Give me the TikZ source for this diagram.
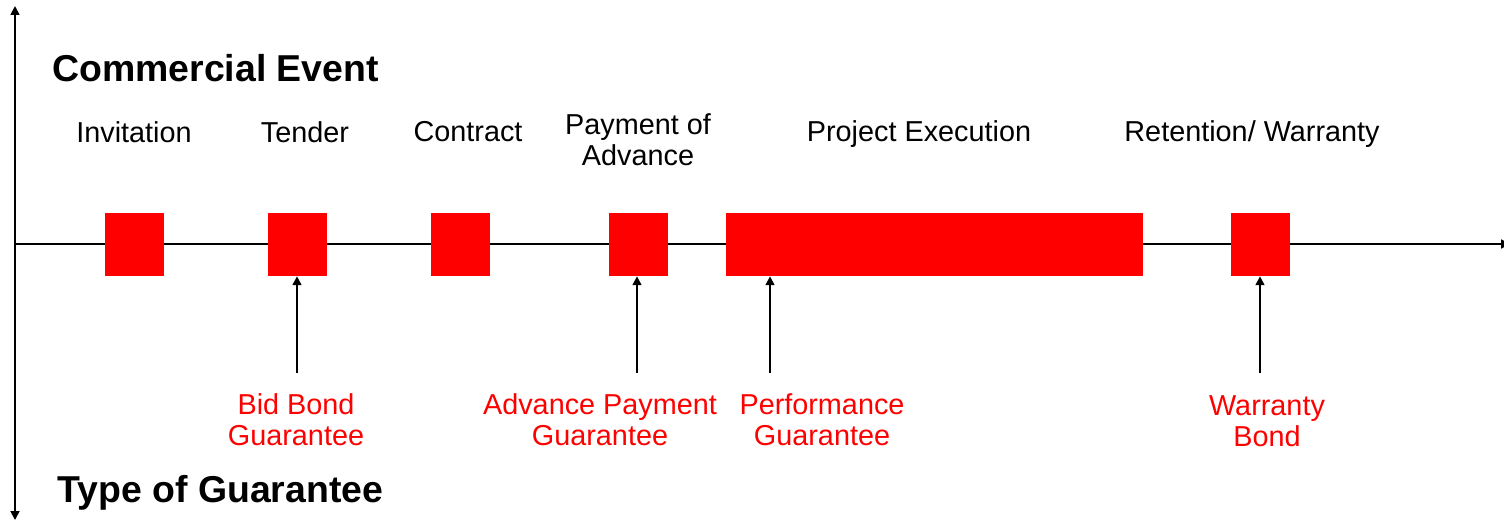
\documentclass[tikz,border=0pt]{standalone}
\usepackage{fontspec}
\setmainfont{Liberation Sans}
\usetikzlibrary{arrows.meta}
\tikzset{
	evt/.style={inner sep=0pt,font=\fontsize{16.4}{17.6}\selectfont,align=center},
	grt/.style={evt,text={rgb,255:red,255;green,0;blue,0}},
	hdr/.style={inner sep=0pt,anchor=west,font=\fontsize{21.3}{24}\selectfont\bfseries},
	blk/.style={rectangle,draw=none,fill={rgb,255:red,255;green,0;blue,0},minimum height=63*0.02cm,inner sep=0pt},
	ptr/.style={line width=1.1pt,-{Triangle[length=5pt,width=5pt]}}
}
\begin{document}
\begin{tikzpicture}[x=0.02cm,y=-0.02cm]
	\useasboundingbox (0,0) rectangle (1504,524);
	% axes
	\draw[line width=1pt,{Triangle[length=5pt,width=5pt]}-{Triangle[length=5pt,width=5pt]}] (15,520) -- (15,6);
	\draw[line width=1.1pt,-{Triangle[length=5pt,width=5pt]}] (15,244) -- (1510,244);
	% headings
	\node[hdr] (evhdr) at (52,68) {Commercial Event};
	\node[hdr] (gthdr) at (57,493) {Type of Guarantee};
	% events
	\node[evt] (invit) at (134,132) {Invitation};
	\node[evt] (tender) at (305,132) {Tender};
	\node[evt] (contr) at (468,132) {Contract};
	\node[evt] (payadv) at (638,140) {Payment of\\Advance};
	\node[evt] (projex) at (919,134) {Project Execution};
	\node[evt] (retwar) at (1252,134) {Retention/ Warranty};
	% blocks
	\node[blk,minimum width=59*0.02cm] (binvit) at (134.5,244.5) {};
	\node[blk,minimum width=59*0.02cm] (btender) at (297.5,244.5) {};
	\node[blk,minimum width=59*0.02cm] (bcontr) at (460.5,244.5) {};
	\node[blk,minimum width=59*0.02cm] (bpayadv) at (638.5,244.5) {};
	\node[blk,minimum width=417*0.02cm] (bprojex) at (934.5,244.5) {};
	\node[blk,minimum width=59*0.02cm] (bretwar) at (1260.5,244.5) {};
	% guarantees
	\node[grt] (bidbond) at (296,420) {Bid Bond\\Guarantee};
	\node[grt] (advpay) at (600,420) {Advance Payment\\Guarantee};
	\node[grt] (perf) at (822,420) {Performance\\Guarantee};
	\node[grt] (warbond) at (1267,421) {Warranty\\Bond};
	\coordinate (cbid) at (297,373);
	\coordinate (cadv) at (637,373);
	\coordinate (cperf) at (770,373);
	\coordinate (cwar) at (1260,373);
	\draw[ptr] (cbid) -- (cbid |- btender.south);
	\draw[ptr] (cadv) -- (cadv |- bpayadv.south);
	\draw[ptr] (cperf) -- (cperf |- bprojex.south);
	\draw[ptr] (cwar) -- (cwar |- bretwar.south);
\end{tikzpicture}
\end{document}
